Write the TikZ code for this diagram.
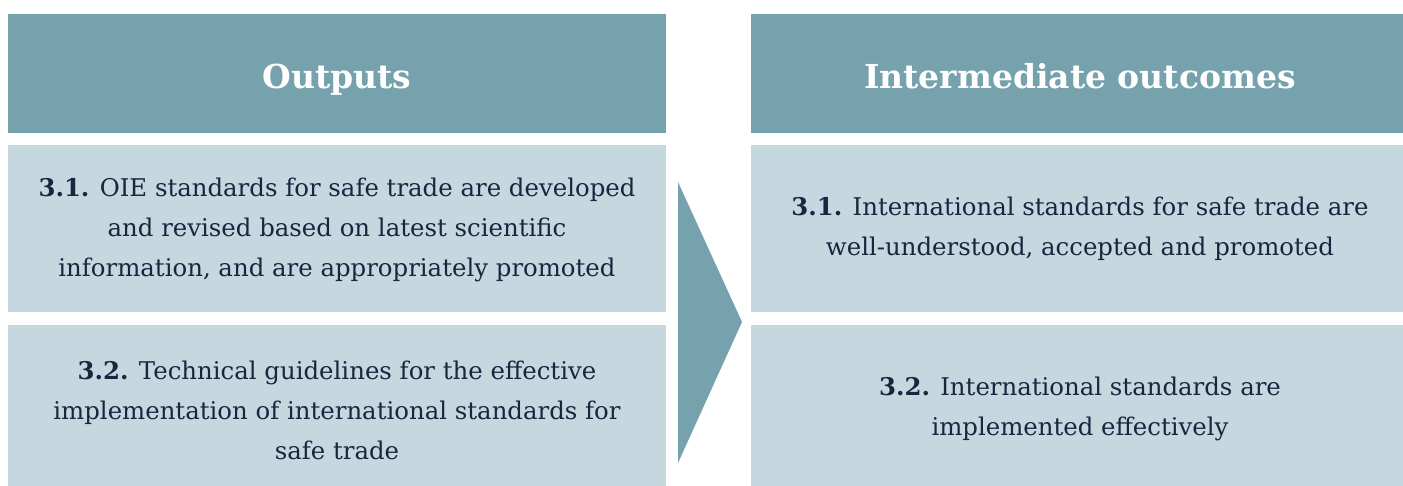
\documentclass[tikz,border=0pt]{standalone}
\usepackage{fontspec}
\setmainfont{DejaVu Serif}
\definecolor{headc}{HTML}{75A2AD}
\definecolor{boxc}{HTML}{C6D8DF}
\definecolor{txtc}{HTML}{1B2540}
\tikzset{
  head/.style={fill=headc, draw=none},
  cell/.style={fill=boxc, draw=none},
  headtxt/.style={text=white, font=\fontsize{33}{40}\selectfont\bfseries, align=center, anchor=base, inner sep=0pt},
  celltxt/.style={text=txtc, font=\fontsize{24.4}{40}\selectfont, align=center},
}
\begin{document}
\begin{tikzpicture}[x=1pt,y=-1pt]
\useasboundingbox (0,0) rectangle (1403,486);
% left column
\fill[head] (8,14) rectangle (666,133);
\fill[cell] (8,145) rectangle (666,312);
\fill[cell] (8,325) rectangle (666,486);
% right column
\fill[head] (751,14) rectangle (1403,133);
\fill[cell] (751,145) rectangle (1403,312);
\fill[cell] (751,325) rectangle (1403,486);
% arrow
\fill[headc] (678,182) -- (742,322) -- (678,463) -- cycle;
% texts
\node[headtxt] (h1) at (337,89) {Outputs};
\node[headtxt] (h2) at (1080,89) {Intermediate outcomes};
\node[celltxt] (o1) at (337,230) {\textbf{3.1.} OIE standards for safe trade are developed\\and revised based on latest scientific\\information, and are appropriately promoted};
\node[celltxt] (o2) at (337,410) {\textbf{3.2.} Technical guidelines for the effective\\implementation of international standards for\\safe trade};
\node[celltxt] (i1) at (1080,229) {\textbf{3.1.} International standards for safe trade are\\well-understood, accepted and promoted};
\node[celltxt] (i2) at (1080,409) {\textbf{3.2.} International standards are\\implemented effectively};
\end{tikzpicture}
\end{document}
